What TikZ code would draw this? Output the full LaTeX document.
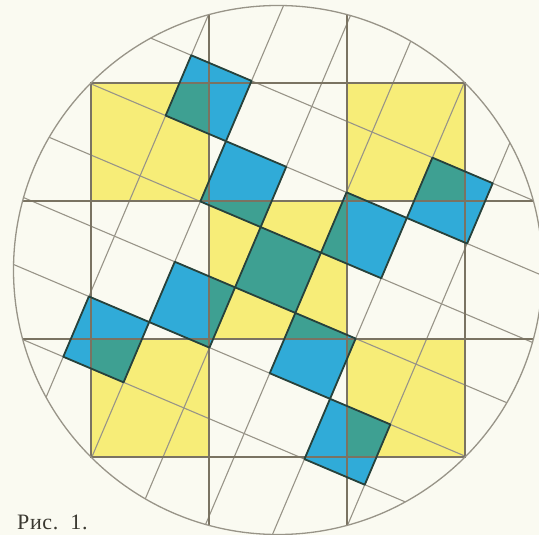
\documentclass[tikz,border=0pt]{standalone}
\usepackage{fontspec}
\newfontfamily\capfont[LetterSpace=3]{Liberation Serif}
\definecolor{paper}{RGB}{250,250,241}
\definecolor{yel}{RGB}{247,237,120}
\definecolor{blu}{RGB}{48,171,216}
\definecolor{tealg}{RGB}{62,160,146}
\definecolor{gridg}{RGB}{152,148,136}
\definecolor{axisg}{RGB}{122,115,98}
\definecolor{edgec}{RGB}{38,66,60}
\definecolor{txt}{RGB}{58,56,48}
\tikzset{
  tiltline/.style={draw=gridg, line width=1.1pt},
  axisline/.style={draw=axisg, line width=1.4pt},
  celledge/.style={draw=edgec, line width=1.8pt, line join=round},
  rim/.style={draw=gridg, line width=1.3pt},
  tilted/.style={shift={(278,270)}, rotate=-23, scale=65.5}
}
\begin{document}
\begin{tikzpicture}[x=1pt,y=-1pt]
\useasboundingbox (0,0) rectangle (539,535);
\fill[paper] (0,0) rectangle (539,535);
\coordinate (C) at (278,270);

% yellow axis-aligned squares
\fill[yel] (91,83) rectangle (209,201);
\fill[yel] (347,83) rectangle (465,201);
\fill[yel] (209,201) rectangle (347,339);
\fill[yel] (91,339) rectangle (209,457);
\fill[yel] (347,339) rectangle (465,457);

% blue tilted cells
\begin{scope}[tilted]
  \foreach \i/\j in {-2/-2,-1/-1,0/0,1/1,2/2,2/-2,1/-1,-1/1,-2/2}
    \fill[blu] (\i-0.5,\j-0.5) rectangle (\i+0.5,\j+0.5);
\end{scope}

% overlap of blue and yellow
\begin{scope}
  \clip (91,83) rectangle (209,201) (347,83) rectangle (465,201)
        (209,201) rectangle (347,339) (91,339) rectangle (209,457)
        (347,339) rectangle (465,457);
  \begin{scope}[tilted]
    \foreach \i/\j in {-2/-2,-1/-1,0/0,1/1,2/2,2/-2,1/-1,-1/1,-2/2}
      \fill[tealg] (\i-0.5,\j-0.5) rectangle (\i+0.5,\j+0.5);
  \end{scope}
\end{scope}

% lines clipped to the circle
\begin{scope}
  \clip (C) circle[radius=264.5pt];
  \begin{scope}[tilted]
    \foreach \k in {-2.5,-1.5,-0.5,0.5,1.5,2.5} {
      \draw[tiltline] (-5,\k) -- (5,\k);
      \draw[tiltline] (\k,-5) -- (\k,5);
    }
  \end{scope}
  \draw[axisline] (209,0) -- (209,535);
  \draw[axisline] (347,0) -- (347,535);
  \draw[axisline] (0,201) -- (539,201);
  \draw[axisline] (0,339) -- (539,339);
\end{scope}
\draw[axisline] (91,83) rectangle (465,457);

% dark outlines of blue cells
\begin{scope}[tilted]
  \foreach \i/\j in {-2/-2,-1/-1,0/0,1/1,2/2,2/-2,1/-1,-1/1,-2/2}
    \draw[celledge] (\i-0.5,\j-0.5) rectangle (\i+0.5,\j+0.5);
\end{scope}

% circle
\draw[rim] (C) circle[radius=264.5pt];

\node[anchor=base west, inner sep=0pt, text=txt,
      font=\capfont\fontsize{22}{22}\selectfont] (lbl) at (17,529) {Рис.\hspace{12pt}1.};
\end{tikzpicture}
\end{document}
